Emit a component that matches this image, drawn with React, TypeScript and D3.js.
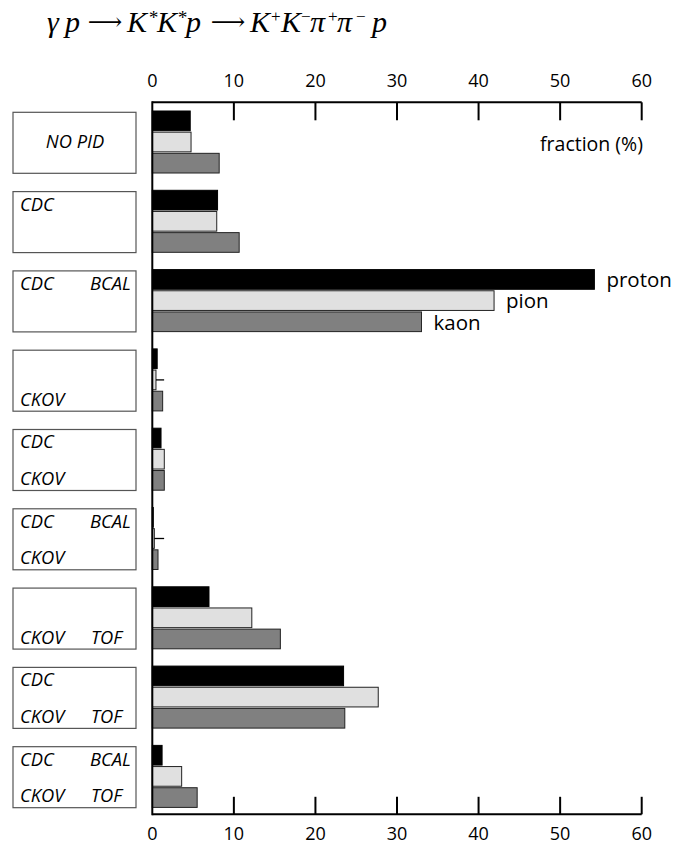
import React from "react";
import * as d3 from "d3";

const categories = ["NO PID", "CDC", "CDC BCAL", "CKOV", "CDC CKOV", "CDC BCAL CKOV", "CKOV TOF", "CDC CKOV TOF", "CDC BCAL CKOV TOF"];
const boxTopLeft = ["", "CDC", "CDC", "", "CDC", "CDC", "", "CDC", "CDC"];
const boxTopRight = ["", "", "BCAL", "", "", "BCAL", "", "", "BCAL"];
const boxBottomLeft = ["", "", "", "CKOV", "CKOV", "CKOV", "CKOV", "CKOV", "CKOV"];
const boxBottomRight = ["", "", "", "", "", "", "TOF", "TOF", "TOF"];
const boxCenter = ["NO PID", "", "", "", "", "", "", "", ""];

const seriesNames = ["proton", "pion", "kaon"];
const protonValues = [4.65, 8.0, 54.2, 0.6, 1.07, 0.12, 6.95, 23.45, 1.2];
const pionValues = [4.75, 7.9, 41.9, 0.45, 1.47, 0.25, 12.2, 27.7, 3.6];
const kaonValues = [8.2, 10.65, 33.0, 1.27, 1.47, 0.7, 15.7, 23.6, 5.5];
const pionErrors = [0, 0, 0, 1.0, 0, 1.2, 0, 0, 0];
const labelledRow = 2;

const xTicks = [0, 10, 20, 30, 40, 50, 60];

// Title pieces: glyph, x (left for glyphs, centre for arrows), kind (b = base, s = superscript, a = arrow)
const titleGlyphs = ["γ", "p", "⟶", "K", "*", "K", "*", "p", "⟶", "K", "+", "K", "−", "π", "+", "π", "−", "p"];
const titleX = [47, 65, 105, 127, 148, 157, 177, 186, 228, 250, 271, 281, 301, 310, 328, 337, 356, 372];
const titleKind = ["b", "b", "a", "b", "s", "b", "s", "b", "a", "b", "s", "b", "s", "b", "s", "b", "s", "b"];

const colors = ["#000000", "#e0e0e0", "#808080"];
const strokes = ["#000000", "#222222", "#222222"];

export default function App() {
  const x = d3.scaleLinear().domain([0, 60]).range([152.3, 641.7]);
  const yRow = d3
    .scaleBand<number>()
    .domain(d3.range(categories.length))
    .range([111, 807.4])
    .paddingInner(0.218)
    .paddingOuter(0);
  const ySeries = d3
    .scaleBand<number>()
    .domain([0, 1, 2])
    .range([0, yRow.bandwidth()])
    .paddingInner(0.07);
  const values = [protonValues, pionValues, kaonValues];

  const axisTop = 102.3;
  const axisBottom = 814.3;
  const sans = "'Open Sans', 'Noto Sans', sans-serif";
  const serif = "'Liberation Serif', 'Times New Roman', serif";
  const boxL = 13;
  const boxR = 136;

  return (
    <svg width={675} height={845} style={{ position: "absolute", left: 0, top: 0 }}>
      <rect x={0} y={0} width={675} height={845} fill="#fff" />
      {/* Title */}
      <g fontFamily={serif} fill="#000">
        {titleGlyphs.map((g, i) => {
          const k = titleKind[i];
          if (k === "a") {
            return (
              <text key={"tg" + i} x={titleX[i]} y={30} fontSize={24} textAnchor="middle" fontFamily="'DejaVu Serif', 'DejaVu Sans', serif">
                {g}
              </text>
            );
          }
          if (k === "s") {
            return (
              <text key={"tg" + i} x={titleX[i]} y={g === "*" ? 24 : 22} fontSize={g === "*" ? 19 : 17} fontStyle={g === "*" ? "italic" : "normal"}>
                {g}
              </text>
            );
          }
          return (
            <text key={"tg" + i} x={titleX[i]} y={31.5} fontSize={30} fontStyle="italic">
              {g}
            </text>
          );
        })}
      </g>

      {/* Top axis */}
      <line x1={x(0)} x2={x(60)} y1={axisTop} y2={axisTop} stroke="#000" strokeWidth={2} />
      {xTicks.map((t) => (
        <g key={"tt" + t}>
          {t > 0 && <line x1={x(t)} x2={x(t)} y1={axisTop} y2={axisTop + 18} stroke="#000" strokeWidth={2} />}
          <text x={x(t)} y={87} textAnchor="middle" fontFamily={sans} fontSize={18} fill="#000">
            {t}
          </text>
        </g>
      ))}
      <text x={643} y={151} textAnchor="end" fontFamily={sans} fontSize={19.5} fill="#000">
        fraction (%)
      </text>

      {/* Bottom axis */}
      <line x1={x(0)} x2={x(60)} y1={axisBottom} y2={axisBottom} stroke="#000" strokeWidth={2} />
      {xTicks.map((t) => (
        <g key={"bt" + t}>
          {t > 0 && <line x1={x(t)} x2={x(t)} y1={axisBottom - 17.5} y2={axisBottom} stroke="#000" strokeWidth={2} />}
          <text x={x(t)} y={840} textAnchor="middle" fontFamily={sans} fontSize={18} fill="#000">
            {t}
          </text>
        </g>
      ))}

      {/* Bars */}
      {categories.map((c, i) => {
        const y0 = yRow(i) as number;
        return (
          <g key={"row" + i}>
            {values.map((vals, s) => {
              const yb = y0 + (ySeries(s) as number);
              const h = ySeries.bandwidth();
              return (
                <g key={"bar" + s}>
                  <rect
                    x={x(0)}
                    y={yb}
                    width={Math.max(0, x(vals[i]) - x(0))}
                    height={h}
                    fill={colors[s]}
                    stroke={strokes[s]}
                    strokeWidth={1}
                  />
                  {s === 1 && pionErrors[i] > 0 && (
                    <line
                      x1={x(vals[i])}
                      x2={x(vals[i] + pionErrors[i])}
                      y1={yb + h / 2}
                      y2={yb + h / 2}
                      stroke="#000"
                      strokeWidth={1.3}
                    />
                  )}
                  {i === labelledRow && (
                    <text x={x(vals[i]) + 12} y={yb + h - 2} fontFamily={sans} fontSize={20.5} fill="#000">
                      {seriesNames[s]}
                    </text>
                  )}
                </g>
              );
            })}
          </g>
        );
      })}

      {/* Vertical axis line */}
      <line x1={x(0)} x2={x(0)} y1={axisTop - 1} y2={axisBottom + 1} stroke="#000" strokeWidth={2} />

      {/* Label boxes */}
      {categories.map((c, i) => {
        const top = (yRow(i) as number) + 1.3;
        const bottom = top + 61;
        return (
          <g key={"box" + i} fontFamily={sans} fontSize={18.3} fontStyle="italic" fill="#000">
            <rect x={boxL} y={top} width={boxR - boxL} height={bottom - top} fill="none" stroke="#555" strokeWidth={1.2} />
            {boxTopLeft[i] && <text x={20} y={top + 19}>{boxTopLeft[i]}</text>}
            {boxTopRight[i] && <text x={90} y={top + 19}>{boxTopRight[i]}</text>}
            {boxBottomLeft[i] && <text x={20} y={bottom - 5.5}>{boxBottomLeft[i]}</text>}
            {boxBottomRight[i] && <text x={91} y={bottom - 5.5}>{boxBottomRight[i]}</text>}
            {boxCenter[i] && (
              <text x={75} y={(top + bottom) / 2 + 5.5} textAnchor="middle">
                {boxCenter[i]}
              </text>
            )}
          </g>
        );
      })}
    </svg>
  );
}
